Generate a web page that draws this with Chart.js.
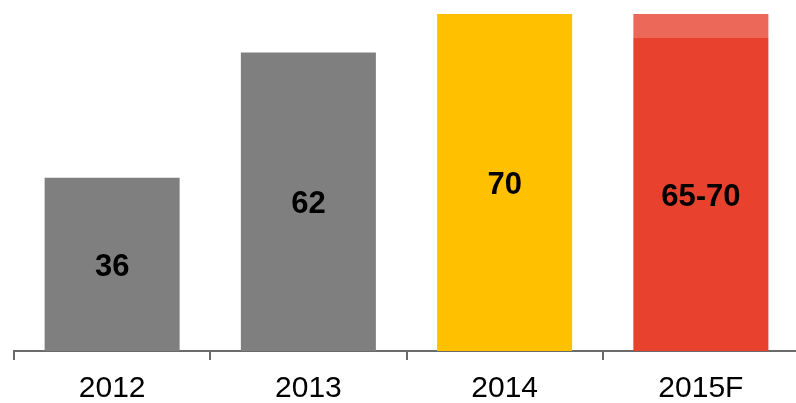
<!DOCTYPE html>
<html>
<head>
<meta charset="utf-8">
<script src="https://cdn.jsdelivr.net/npm/chart.js@4/dist/chart.umd.min.js"></script>
<style>
    html, body { margin: 0; padding: 0; background: #fff; overflow: hidden; }
    canvas { display: block; }
</style>
</head>
<body>
<canvas id="grafico" width="800" height="403"></canvas>
<script>
// Anos e valores das barras
const anos = ['2012', '2013', '2014', '2015F'];
const valorBase = [36, 62, 70, 65];
const valorFaixa = [null, null, null, 5];
const rotulos = ['36', '62', '70', '65-70'];
const coresBase = ['#7f7f7f', '#7f7f7f', '#ffc000', '#e8412d'];

// Escreve o rótulo no meio da parte sólida de cada barra
const rotuloBarras = {
    id: 'rotuloBarras',
    afterDatasetsDraw(chart) {
        const ctx = chart.ctx;
        const meta = chart.getDatasetMeta(0);
        ctx.save();
        ctx.font = 'bold 31px "Liberation Sans", Arial, sans-serif';
        ctx.fillStyle = '#000';
        ctx.textAlign = 'center';
        ctx.textBaseline = 'middle';
        meta.data.forEach(function(barra, i) {
            // +3 compensa o 'middle' que deixa os algarismos um pouco altos
            ctx.fillText(rotulos[i], barra.x, (barra.y + barra.base) / 2 + 3);
        });
        ctx.restore();
    }
};

const ctx = document.getElementById('grafico').getContext('2d');
const chart = new Chart(ctx, {
    type: 'bar',
    data: {
        labels: anos,
        datasets: [
            {
                data: valorBase,
                backgroundColor: coresBase,
                borderWidth: 0,
                categoryPercentage: 1,
                barPercentage: 0.688
            },
            {
                data: valorFaixa,
                backgroundColor: '#ec6959',
                borderWidth: 0,
                categoryPercentage: 1,
                barPercentage: 0.688
            }
        ]
    },
    options: {
        responsive: false,
        animation: false,
        layout: {
            padding: { left: 14, right: 1, top: 14, bottom: 0 }
        },
        plugins: {
            legend: { display: false },
            title: { display: false },
            tooltip: { enabled: false }
        },
        scales: {
            x: {
                stacked: true,
                // altura fixa do eixo para a linha base ficar em y = 351
                afterFit: function(escala) {
                    escala.height = 52;
                },
                grid: {
                    display: true,
                    offset: true,
                    drawOnChartArea: false,
                    drawTicks: true,
                    tickLength: 9,
                    color: '#6a6a6a',
                    lineWidth: 2
                },
                border: { display: true, color: '#6a6a6a', width: 2 },
                ticks: {
                    color: '#000',
                    padding: 11,
                    font: { family: '"Liberation Sans", Arial, sans-serif', size: 30 }
                }
            },
            y: {
                display: false,
                stacked: true,
                min: 0,
                max: 70
            }
        }
    },
    plugins: [rotuloBarras]
});
</script>
</body>
</html>
